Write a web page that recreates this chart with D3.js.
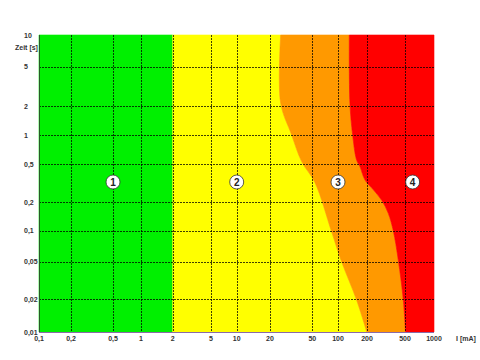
<!DOCTYPE html>
<html>
<head>
<meta charset="utf-8">
<script src="https://cdn.jsdelivr.net/npm/d3@7"></script>
<style>
  body { margin: 0; background: #fff; }
  text { font-family: "Liberation Sans", Arial, sans-serif; font-size: 7px; font-weight: bold; fill: #333; }
</style>
</head>
<body>
<div id="chart"></div>
<script>
// Zeit-Strom-Bereiche (Wechselstrom), log-log

const xTicks = [0.1, 0.2, 0.5, 1, 2, 5, 10, 20, 50, 100, 200, 500, 1000];
const xTickLabels = ["0,1", "0,2", "0,5", "1", "2", "5", "10", "20", "50", "100", "200", "500", "1000"];
const yTicks = [0.01, 0.02, 0.05, 0.1, 0.2, 0.5, 1, 2, 5, 10];
const yTickLabels = ["0,01", "0,02", "0,05", "0,1", "0,2", "0,5", "1", "2", "5", "10"];

// boundary between zone 1 and 2 (mA)
const limitA = 2;
// boundary zone 2 / 3: [mA, s]
const curveC1 = [[25.2, 10], [25.2, 2.14], [32, 1], [39.7, 0.53], [53.8, 0.32], [84, 0.098], [109, 0.05], [156, 0.0197], [199, 0.01]];
// boundary zone 3 / 4: [mA, s]
const curveC2 = [[131, 10], [133, 2.14], [142, 1], [156, 0.55], [169, 0.47], [191, 0.34], [233, 0.27], [285, 0.21],
                 [334, 0.153], [377, 0.1], [425, 0.052], [480, 0.0197], [506, 0.01]];

const zoneNames = ["1", "2", "3", "4"];
const zoneLabelX = [0.5, 10, 100, 600];
const zoneLabelY = 0.325;

const zoneColors = ["#00f000", "#ffff00", "#ff9900", "#ff0000"];

const width = 480, height = 360;

const svg = d3.select("#chart")
    .append("svg")
    .attr("width", width)
    .attr("height", height);

// the original grid is not quite even, so the log scales are piecewise
const x = d3.scaleLog()
    .domain(xTicks)
    .range([39, 71, 113, 141, 172.7, 211, 236.7, 270, 312.3, 338, 367, 405, 434]);

const y = d3.scaleLog()
    .domain(yTicks)
    .range([332, 299.3, 261.7, 230.7, 202.3, 164, 135, 106, 66.7, 35]);

const line = d3.line()
    .x(d => x(d[0]))
    .y(d => y(d[1]));

const smooth = d3.line()
    .x(d => x(d[0]))
    .y(d => y(d[1]))
    .curve(d3.curveCatmullRom.alpha(0.5));

const xMin = 0.1, xMax = 1000, yMin = 0.01, yMax = 10;

const c1 = smooth(curveC1);
const c2 = smooth(curveC2);
const c2Back = smooth(curveC2.slice().reverse());

const zones = [
    line([[xMin, yMax], [limitA, yMax], [limitA, yMin], [xMin, yMin]]) + "Z",
    line([[limitA, yMin], [limitA, yMax]]) + c1.replace(/^M/, "L") + "Z",
    c1 + c2Back.replace(/^M/, "L") + "Z",
    c2 + line([[xMax, yMin], [xMax, yMax]]).replace(/^M/, "L") + "Z"
];

svg.selectAll("path.zone")
    .data(zones)
    .enter()
    .append("path")
    .attr("class", "zone")
    .attr("d", d => d)
    .attr("fill", (d, i) => zoneColors[i])
    .attr("stroke", (d, i) => zoneColors[i])
    .attr("stroke-width", 0.6);

// grid
svg.append("g")
    .selectAll("line")
    .data(xTicks.slice(1, -1))
    .enter()
    .append("line")
    .attr("x1", d => Math.round(x(d)) + 0.5)
    .attr("x2", d => Math.round(x(d)) + 0.5)
    .attr("y1", y(yMax))
    .attr("y2", y(yMin))
    .attr("stroke", "#000")
    .attr("stroke-opacity", 0.75)
    .attr("stroke-dasharray", "2,1");

svg.append("g")
    .selectAll("line")
    .data(yTicks.slice(1, -1))
    .enter()
    .append("line")
    .attr("x1", x(xMin))
    .attr("x2", x(xMax))
    .attr("y1", d => Math.round(y(d)) + 0.5)
    .attr("y2", d => Math.round(y(d)) + 0.5)
    .attr("stroke", "#000")
    .attr("stroke-opacity", 0.75)
    .attr("stroke-dasharray", "2,1");

// axis lines
svg.append("line")
    .attr("x1", x(xMin) + 0.5).attr("x2", x(xMin) + 0.5)
    .attr("y1", y(yMax)).attr("y2", y(yMin))
    .attr("stroke", "#2a5a2a");

svg.append("line")
    .attr("x1", x(xMin)).attr("x2", x(xMax))
    .attr("y1", y(yMin) + 0.5).attr("y2", y(yMin) + 0.5)
    .attr("stroke", "#8a6aa8");

// tick labels
svg.append("g")
    .selectAll("text")
    .data(xTicks)
    .enter()
    .append("text")
    .attr("x", d => x(d))
    .attr("y", 341)
    .attr("text-anchor", "middle")
    .text((d, i) => xTickLabels[i]);

svg.append("g")
    .selectAll("text")
    .data(yTicks)
    .enter()
    .append("text")
    .attr("x", 24)
    .attr("y", d => y(d) + 2.5)
    .text((d, i) => yTickLabels[i]);

svg.append("text")
    .attr("x", 15)
    .attr("y", 50)
    .text("Zeit [s]");

svg.append("text")
    .attr("x", 456)
    .attr("y", 341)
    .text("I [mA]");

// zone markers
const marks = svg.append("g")
    .selectAll("g")
    .data(zoneNames)
    .enter()
    .append("g")
    .attr("transform", (d, i) => `translate(${x(zoneLabelX[i])},${y(zoneLabelY)})`);

marks.append("circle")
    .attr("r", 7)
    .attr("fill", "#fff")
    .attr("stroke", "#333")
    .attr("stroke-width", 0.8);

marks.append("text")
    .attr("text-anchor", "middle")
    .attr("dy", 3.5)
    .style("font-size", "10px")
    .style("fill", "#222")
    .text(d => d);
</script>
</body>
</html>
